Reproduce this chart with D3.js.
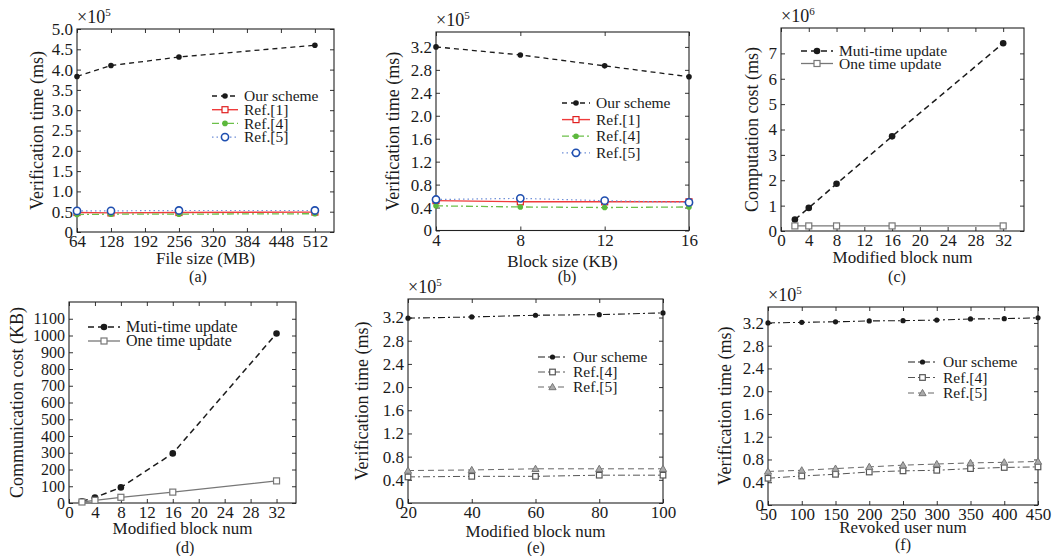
<!DOCTYPE html>
<html>
<head>
<meta charset="utf-8">
<script src="https://cdn.jsdelivr.net/npm/d3@7"></script>
<style>
body { margin: 0; background: #fff; }
text { font-family: "Liberation Serif", "Times New Roman", serif; fill: #1a1a1a; }
</style>
</head>
<body>
<svg id="fig" width="1054" height="556"></svg>
<script>
// (a) verification time vs file size (x1e5 ms)
const fileSizes = [64, 128, 256, 512];
const aOurs = [3.83, 4.10, 4.31, 4.60];
const aRef1 = [0.48, 0.47, 0.48, 0.49];
const aRef4 = [0.43, 0.44, 0.44, 0.45];
const aRef5 = [0.52, 0.52, 0.53, 0.53];

// (b) verification time vs block size (x1e5 ms)
const blockSizes = [4, 8, 12, 16];
const bOurs = [3.20, 3.06, 2.87, 2.68];
const bRef1 = [0.52, 0.50, 0.50, 0.50];
const bRef4 = [0.43, 0.41, 0.40, 0.41];
const bRef5 = [0.54, 0.56, 0.52, 0.49];

// (c) computation cost (x1e6 ms) and (d) communication cost (KB)
const modBlocks = [2, 4, 8, 16, 32];
const cMuti = [0.45, 0.91, 1.86, 3.73, 7.40];
const cOne = [0.2, 0.2, 0.2, 0.2, 0.2];
const dMuti = [10, 33, 93, 296, 1012];
const dOne = [6, 16, 34, 65, 132];

// (e) verification time vs modified blocks (x1e5 ms)
const eBlocks = [20, 40, 60, 80, 100];
const eOurs = [3.19, 3.21, 3.24, 3.25, 3.28];
const eRef4 = [0.45, 0.46, 0.46, 0.48, 0.48];
const eRef5 = [0.56, 0.57, 0.59, 0.59, 0.59];

// (f) verification time vs revoked users (x1e5 ms)
const revokedUsers = [50, 100, 150, 200, 250, 300, 350, 400, 450];
const fOurs = [3.20, 3.21, 3.22, 3.235, 3.24, 3.25, 3.27, 3.275, 3.29];
const fRef4 = [0.47, 0.51, 0.54, 0.58, 0.60, 0.61, 0.64, 0.66, 0.67];
const fRef5 = [0.59, 0.61, 0.64, 0.67, 0.70, 0.72, 0.74, 0.75, 0.765];

const svg = d3.select("#fig");

// line/marker styles
const styles = {
    ours:  { stroke: "#1a1a1a", dash: "5,4", width: 1.3, marker: "dot", fill: "#1a1a1a", r: 2.8 },
    oursDD: { stroke: "#1a1a1a", dash: "7,3,2,3", width: 1.1, marker: "dot", fill: "#1a1a1a", r: 2.6 },
    ref1:  { stroke: "#ef3b3b", dash: null, width: 1.4, marker: "square", fill: "none", r: 3, mstroke: "#e02020" },
    ref4g: { stroke: "#6cc04a", dash: "7,3,2,3", width: 1.3, marker: "dot", fill: "#5cb83c", r: 2.8 },
    ref5b: { stroke: "#7090d8", dash: "1.5,3", width: 1.2, marker: "circle", fill: "none", r: 3.6, mstroke: "#1f4fb0" },
    muti:  { stroke: "#1a1a1a", dash: "6,4", width: 1.5, marker: "dot", fill: "#1a1a1a", r: 3.3 },
    one:   { stroke: "#777", dash: null, width: 1.3, marker: "square", fill: "none", r: 3, mstroke: "#777" },
    ref4s: { stroke: "#555", dash: "7,3,2,3", width: 1.0, marker: "square", fill: "none", r: 2.8, mstroke: "#555" },
    ref5t: { stroke: "#666", dash: "6,4", width: 1.0, marker: "triangle", fill: "#aaa", r: 3.6, mstroke: "#777" }
};

function drawMarker(g, st, cx, cy) {
    if (st.marker === "dot") {
        g.append("circle").attr("cx", cx).attr("cy", cy).attr("r", st.r).attr("fill", st.fill);
    } else if (st.marker === "circle") {
        g.append("circle").attr("cx", cx).attr("cy", cy).attr("r", st.r)
            .attr("fill", "#fff").attr("stroke", st.mstroke).attr("stroke-width", 1.6);
    } else if (st.marker === "square") {
        g.append("rect").attr("x", cx - st.r).attr("y", cy - st.r)
            .attr("width", st.r * 2).attr("height", st.r * 2)
            .attr("fill", "#fff").attr("stroke", st.mstroke).attr("stroke-width", 1.2);
    } else if (st.marker === "triangle") {
        const r = st.r;
        g.append("path").attr("d", `M${cx},${cy - r}L${cx + r},${cy + r * 0.75}L${cx - r},${cy + r * 0.75}Z`)
            .attr("fill", st.fill).attr("stroke", st.mstroke).attr("stroke-width", 1);
    }
}

function drawPanel(p) {
    const g = svg.append("g");
    const x = d3.scaleLinear().domain(p.xDomain).range([p.left, p.right]);
    const y = d3.scaleLinear().domain(p.yDomain).range([p.bottom, p.top]);

    // axes, inward ticks on all four sides
    const fmtY = p.yFormat || (d => d === 0 ? "0" : d3.format(".1f")(d));
    const bottom = g.append("g").attr("transform", `translate(0,${p.bottom})`)
        .call(d3.axisBottom(x).tickValues(p.xTicks).tickSizeInner(-4).tickSizeOuter(0).tickPadding(3));
    const left = g.append("g").attr("transform", `translate(${p.left},0)`)
        .call(d3.axisLeft(y).tickValues(p.yTicks).tickFormat(fmtY).tickSizeInner(-4).tickSizeOuter(0).tickPadding(4));
    const top = g.append("g").attr("transform", `translate(0,${p.top})`)
        .call(d3.axisTop(x).tickValues(p.xTicks).tickFormat("").tickSizeInner(-4).tickSizeOuter(0));
    const right = g.append("g").attr("transform", `translate(${p.right},0)`)
        .call(d3.axisRight(y).tickValues(p.yTicks).tickFormat("").tickSizeInner(-4).tickSizeOuter(0));
    [bottom, left, top, right].forEach(a => {
        a.select(".domain").remove();
        a.attr("font-family", null).attr("font-size", 17);
        a.selectAll("line").attr("stroke", "#333");
        a.selectAll("text").attr("fill", "#1a1a1a");
    });
    if (p.yTickFs) left.attr("font-size", p.yTickFs);

    // frame
    g.append("rect").attr("x", p.left).attr("y", p.top)
        .attr("width", p.right - p.left).attr("height", p.bottom - p.top)
        .attr("fill", "none").attr("stroke", "#222").attr("stroke-width", 1.1);

    // series
    p.series.forEach(s => {
        const st = styles[s.style];
        const pts = p.xs.map((v, i) => [x(v), y(s.values[i])]);
        g.append("path").attr("d", d3.line()(pts))
            .attr("fill", "none").attr("stroke", st.stroke)
            .attr("stroke-width", st.width)
            .attr("stroke-dasharray", st.dash);
        pts.forEach(pt => drawMarker(g, st, pt[0], pt[1]));
    });

    // legend
    p.series.forEach((s, i) => {
        const st = styles[s.style];
        const ly = p.legend.y + i * p.legend.dy;
        g.append("line").attr("x1", p.legend.x).attr("x2", p.legend.x + p.legend.w)
            .attr("y1", ly).attr("y2", ly)
            .attr("stroke", st.stroke).attr("stroke-width", st.width)
            .attr("stroke-dasharray", st.dash);
        drawMarker(g, st, p.legend.x + p.legend.w / 2, ly);
        g.append("text").attr("x", p.legend.x + p.legend.w + 6).attr("y", ly)
            .attr("dy", "0.33em").attr("font-size", p.legend.fs).text(s.name);
    });

    // exponent
    if (p.exp) {
        const t = g.append("text").attr("x", p.left).attr("y", p.top - 6).attr("font-size", 18);
        t.append("tspan").text("×10");
        t.append("tspan").attr("font-size", 11).attr("dy", -7).text(p.exp);
    }

    // axis labels and caption
    g.append("text").attr("transform", `translate(${p.yLabelX},${(p.top + p.bottom) / 2}) rotate(-90)`)
        .attr("text-anchor", "middle").attr("dy", "0.33em").attr("font-size", 18).text(p.yLabel);
    g.append("text").attr("x", (p.left + p.right) / 2).attr("y", p.xLabelY)
        .attr("text-anchor", "middle").attr("dy", "0.33em").attr("font-size", 17).text(p.xLabel);
    g.append("text").attr("x", p.capX).attr("y", p.capY)
        .attr("text-anchor", "middle").attr("dy", "0.33em").attr("font-size", 16).text(p.caption);
}

drawPanel({
    left: 77, right: 334, top: 29, bottom: 232,
    xDomain: [64, 548], yDomain: [0, 5],
    xTicks: d3.range(64, 513, 64), yTicks: d3.range(0, 5.01, 0.5),
    xs: fileSizes, exp: "5",
    series: [
        { name: "Our scheme", values: aOurs, style: "ours" },
        { name: "Ref.[1]", values: aRef1, style: "ref1" },
        { name: "Ref.[4]", values: aRef4, style: "ref4g" },
        { name: "Ref.[5]", values: aRef5, style: "ref5b" }
    ],
    legend: { x: 212, y: 96, dy: 13.7, w: 26, fs: 15.5 },
    yLabel: "Verification time (ms)", yLabelX: 37,
    xLabel: "File size (MB)", xLabelY: 258,
    caption: "(a)", capX: 198, capY: 277
});

drawPanel({
    left: 436, right: 689, top: 32, bottom: 230.5,
    xDomain: [4, 16], yDomain: [0, 3.46],
    xTicks: blockSizes, yTicks: d3.range(0, 3.21, 0.4),
    xs: blockSizes, exp: "5",
    series: [
        { name: "Our scheme", values: bOurs, style: "ours" },
        { name: "Ref.[1]", values: bRef1, style: "ref1" },
        { name: "Ref.[4]", values: bRef4, style: "ref4g" },
        { name: "Ref.[5]", values: bRef5, style: "ref5b" }
    ],
    legend: { x: 562, y: 103, dy: 16.6, w: 28, fs: 15.5 },
    yLabel: "Verification time (ms)", yLabelX: 393,
    xLabel: "Block size (KB)", xLabelY: 261,
    caption: "(b)", capX: 567, capY: 277
});

drawPanel({
    left: 781, right: 1024, top: 28, bottom: 231,
    xDomain: [0, 35], yDomain: [0, 8],
    xTicks: d3.range(0, 33, 4), yTicks: d3.range(0, 8, 1),
    yFormat: d3.format("d"),
    xs: modBlocks, exp: "6",
    series: [
        { name: "Muti-time update", values: cMuti, style: "muti" },
        { name: "One time update", values: cOne, style: "one" }
    ],
    legend: { x: 801, y: 51, dy: 12.5, w: 32, fs: 15.5 },
    yLabel: "Computation cost (ms)", yLabelX: 752,
    xLabel: "Modified block num", xLabelY: 257,
    caption: "(c)", capX: 897, capY: 277
});

drawPanel({
    left: 69, right: 296, top: 302, bottom: 503,
    xDomain: [0, 35], yDomain: [0, 1200],
    xTicks: d3.range(0, 33, 4), yTicks: d3.range(0, 1101, 100),
    yFormat: d3.format("d"), yTickFs: 16,
    xs: modBlocks,
    series: [
        { name: "Muti-time update", values: dMuti, style: "muti" },
        { name: "One time update", values: dOne, style: "one" }
    ],
    legend: { x: 88, y: 327, dy: 14, w: 32, fs: 16 },
    yLabel: "Communication cost (KB)", yLabelX: 17,
    xLabel: "Modified block num", xLabelY: 528,
    caption: "(d)", capX: 185, capY: 548
});

drawPanel({
    left: 408, right: 663, top: 299, bottom: 503,
    xDomain: [20, 100], yDomain: [0, 3.52],
    xTicks: eBlocks, yTicks: d3.range(0, 3.21, 0.4),
    xs: eBlocks, exp: "5",
    series: [
        { name: "Our scheme", values: eOurs, style: "oursDD" },
        { name: "Ref.[4]", values: eRef4, style: "ref4s" },
        { name: "Ref.[5]", values: eRef5, style: "ref5t" }
    ],
    legend: { x: 538, y: 357, dy: 15, w: 29, fs: 15.5 },
    yLabel: "Verification time (ms)", yLabelX: 362,
    xLabel: "Modified block num", xLabelY: 531,
    caption: "(e)", capX: 536, capY: 548
});

drawPanel({
    left: 768, right: 1038, top: 307, bottom: 505,
    xDomain: [50, 450], yDomain: [0, 3.48],
    xTicks: revokedUsers, yTicks: d3.range(0, 3.21, 0.4),
    xs: revokedUsers, exp: "5",
    series: [
        { name: "Our scheme", values: fOurs, style: "oursDD" },
        { name: "Ref.[4]", values: fRef4, style: "ref4s" },
        { name: "Ref.[5]", values: fRef5, style: "ref5t" }
    ],
    legend: { x: 908, y: 362, dy: 15.5, w: 29, fs: 15.5 },
    yLabel: "Verification time (ms)", yLabelX: 725,
    xLabel: "Revoked user num", xLabelY: 527,
    caption: "(f)", capX: 903, capY: 545
});
</script>
</body>
</html>
